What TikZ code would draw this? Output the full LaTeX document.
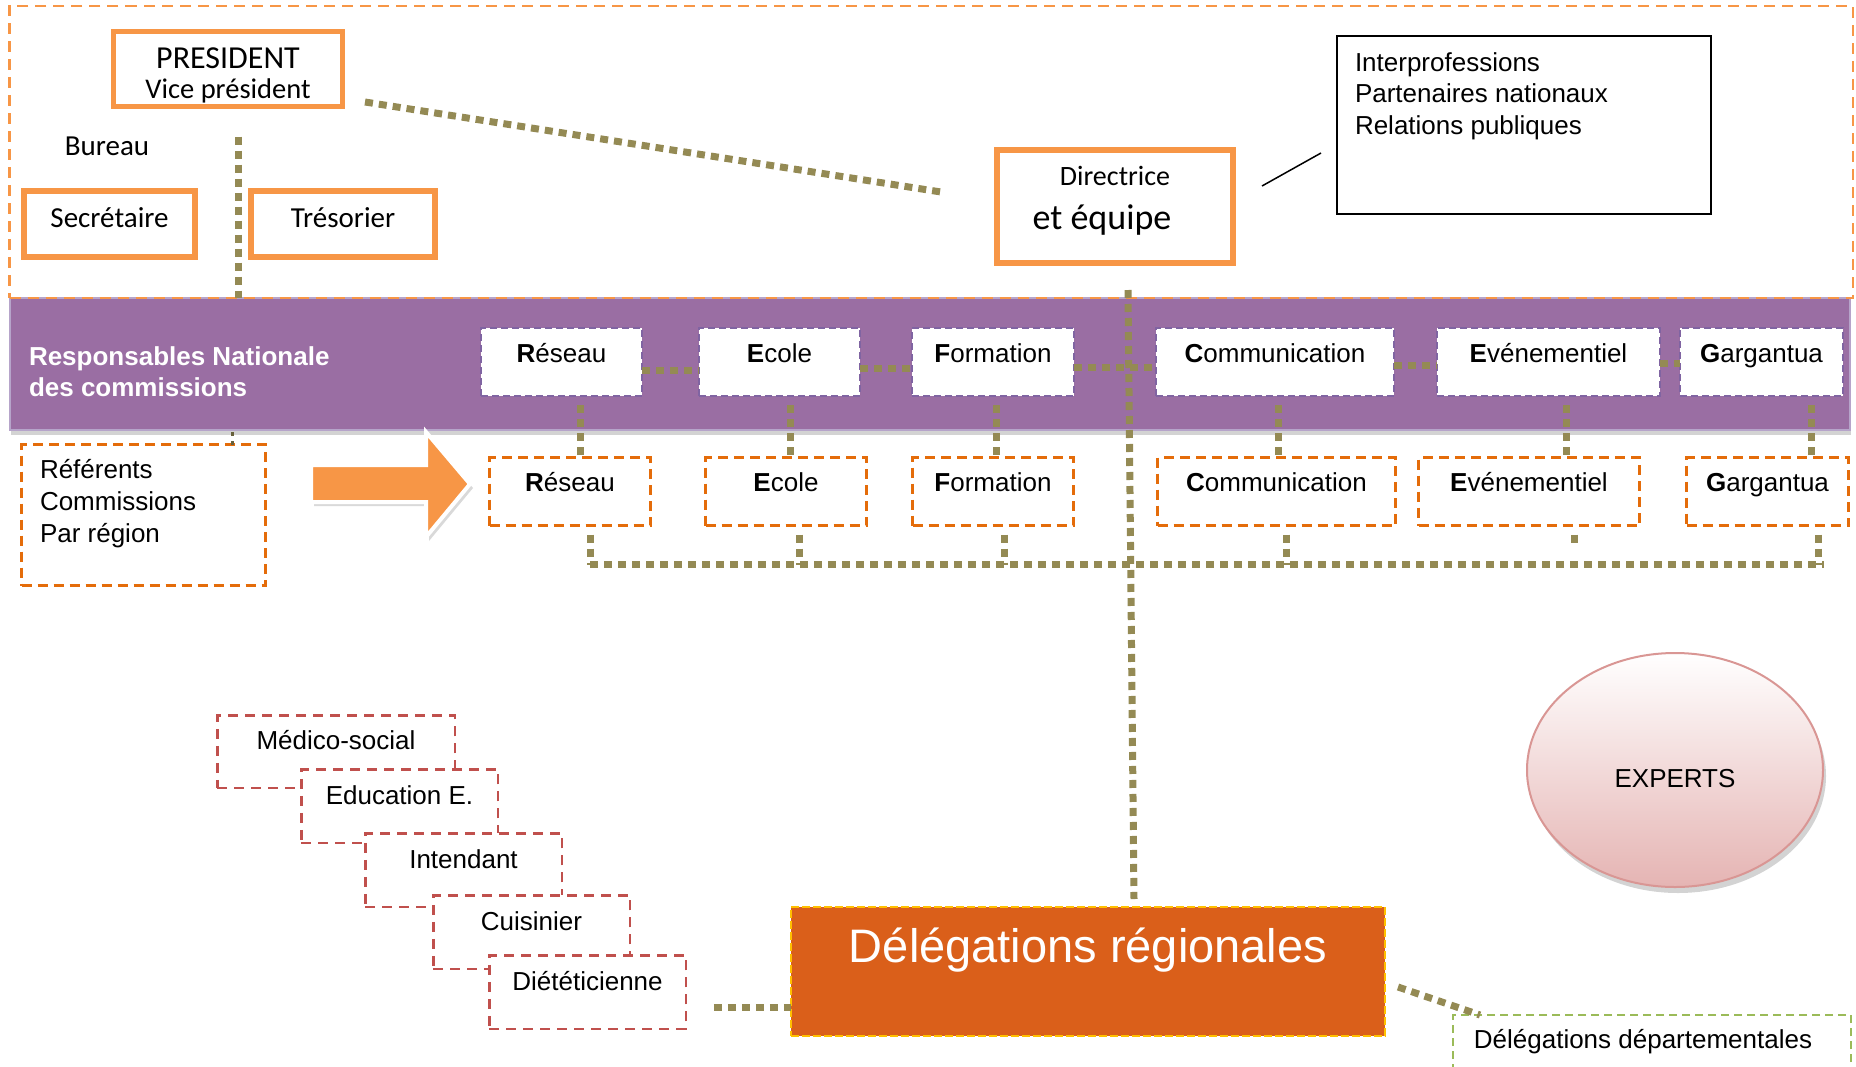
\documentclass[tikz,border=0pt]{standalone}
\usepackage{fontspec}
\setmainfont{Liberation Sans}
\newfontfamily\calib{Carlito}
\usetikzlibrary{calc,shapes.geometric,shadows}
\definecolor{orgL}{RGB}{247,150,70}
\definecolor{orgD}{RGB}{228,108,10}
\definecolor{purp}{RGB}{154,110,163}
\definecolor{purpL}{RGB}{182,164,202}
\definecolor{purpD}{RGB}{128,100,162}
\definecolor{oliv}{RGB}{148,138,84}
\definecolor{redD}{RGB}{192,80,77}
\definecolor{dregC}{RGB}{218,95,26}
\definecolor{yelC}{RGB}{255,192,0}
\definecolor{grnC}{RGB}{155,187,89}
\definecolor{pinkB}{RGB}{217,150,148}
\definecolor{pinkF}{RGB}{229,180,179}
\begin{document}
\begin{tikzpicture}[x=1pt,y=-1pt,
  every node/.style={inner sep=0pt, outer sep=0pt},
  ob/.style={draw=orgL, line width=5.5pt, fill=white, font=\calib\fontsize{29}{34}\selectfont},
  txt26/.style={font=\fontsize{26}{31}\selectfont},
  bb/.style={txt26, draw=purpD, dash pattern=on 7pt off 4pt, line width=2pt, fill=white,
    minimum height=68pt, text height=20pt, text depth=20pt},
  lb/.style={txt26, draw=orgD, dash pattern=on 10pt off 6pt, line width=3pt, fill=white,
    minimum height=68pt, text height=20pt, text depth=20pt},
  rb/.style={txt26, draw=redD, dash pattern=on 10pt off 7pt, line width=2.5pt, fill=white,
    minimum height=73.5pt, minimum width=196.5pt, text height=20pt, text depth=24pt},
  dots/.style={draw=oliv, line width=7pt, dash pattern=on 8pt off 6pt},
]
\useasboundingbox (0,0) rectangle (1856,1066);

% purple band
\node[fill=purp, draw=purpL, line width=2pt, minimum width=1840pt, minimum height=132pt,
  anchor=north west, drop shadow={shadow xshift=1pt, shadow yshift=-5pt, opacity=0.35}] (band) at (10,298) {};
% outer dashed frame
\node[draw=orgL, line width=2.5pt, dash pattern=on 11pt off 7pt, minimum width=1843.5pt,
  minimum height=292pt, anchor=north west] (frame) at (9.5,6) {};

\node[anchor=west, align=left, text=white, font=\bfseries\fontsize{26}{31}\selectfont] (bandtxt)
  at (29,372) {Responsables Nationale\\des commissions};

% bureau
\node[ob, font=\calib\fontsize{28.5}{30}\selectfont] (pres) at (228,69)
  {\parbox[c][75pt][t]{229pt}{\centering\rule{0pt}{36.5pt}{\fontsize{32}{30}\selectfont PRESIDENT}\\Vice président}};
\node[font=\calib\fontsize{29}{34}\selectfont, anchor=base] (bureau) at (107,155) {Bureau};
\node[ob, minimum width=171pt, minimum height=66pt, text height=20pt, text depth=14pt] (sec) at (109.5,224) {Secrétaire};
\node[ob, minimum width=184pt, minimum height=66pt, text height=20pt, text depth=14pt] (tres) at (343,224) {Trésorier};

% directrice
\node[ob] (dir) at (1115,206.5)
  {\parbox[c][113pt][t]{236pt}{\centering\fontsize{28}{34}\selectfont\rule{0pt}{35pt}Directrice\par
   \fontsize{36}{44}\selectfont et équipe\hspace*{26pt}\par}};
\node[txt26, draw=black, line width=2pt, fill=white, inner xsep=18pt] (inter) at (1524,125)
  {\parbox[c][178pt][t]{338pt}{\fontsize{26}{31.5}\selectfont\raggedright\rule{0pt}{35pt}Interprofessions\\Partenaires nationaux\\Relations publiques}};

% band boxes
\node[bb, minimum width=161pt] (br) at (561.5,362) {\textbf{R}éseau};
\node[bb, minimum width=161pt] (be) at (779.5,362) {\textbf{E}cole};
\node[bb, minimum width=162pt] (bf) at (993,362) {\textbf{F}ormation};
\node[bb, minimum width=238pt] (bc) at (1275,362) {\textbf{C}ommunication};
\node[bb, minimum width=223pt] (bv) at (1548.5,362) {\textbf{E}vénementiel};
\node[bb, minimum width=163pt] (bg) at (1761.5,362) {\textbf{G}argantua};

% lower boxes
\node[lb, minimum width=161pt] (lr) at (570,491.5) {\textbf{R}éseau};
\node[lb, minimum width=161pt] (le) at (786,491.5) {\textbf{E}cole};
\node[lb, minimum width=161pt] (lf) at (993,491.5) {\textbf{F}ormation};
\node[lb, minimum width=238pt] (lc) at (1276.5,491.5) {\textbf{C}ommunication};
\node[lb, minimum width=221pt] (lv) at (1529,491.5) {\textbf{E}vénementiel};
\node[lb, minimum width=162pt] (lg) at (1767.5,491.5) {\textbf{G}argantua};

% referents
\node[txt26, draw=orgD, line width=3pt, dash pattern=on 10pt off 6pt, fill=white, inner xsep=18.5pt] (ref) at (143.5,515)
  {\parbox[c][141pt][t]{207pt}{\fontsize{26}{32}\selectfont\raggedright\rule{0pt}{33.5pt}Référents\\Commissions\\Par région}};

% block arrow
\path[draw=white, line width=4pt, fill=orgL, line join=miter,
  drop shadow={shadow xshift=3pt, shadow yshift=-4pt, opacity=0.3}]
  (311,465) -- (426,465) -- (426,432) -- (470,484) -- (426,537) -- (426,502) -- (311,502) -- cycle;

% staff boxes
\node[rb, minimum width=237.5pt, minimum height=72.5pt] (med) at (336,751.5) {Médico-social};
\node[rb] (edu) at (399.5,806) {Education E.};
\node[rb] (int) at (463.5,870) {Intendant};
\node[rb] (cui) at (531.5,932) {Cuisinier};
\node[rb] (diet) at (587.5,992) {Diététicienne};

% delegations
\node[fill=dregC, draw=yelC, line width=2pt, dash pattern=on 8pt off 3pt, minimum width=594pt,
  minimum height=129pt, text=white, font=\fontsize{47}{56}\selectfont, text height=34pt, text depth=53pt]
  (dreg) at (1088,971.5) {Délégations régionales};
\node[txt26, draw=grnC, line width=2pt, dash pattern=on 8pt off 5pt, fill=white, minimum width=398pt,
  minimum height=78pt, text height=19pt, text depth=31pt] (ddep) at (1652,1054) {Délégations départementales\hspace*{18pt}};

% experts
\node[ellipse, draw=pinkB, line width=2pt, top color=white, bottom color=pinkF, minimum width=296pt,
  minimum height=234pt, drop shadow={shadow xshift=3pt, shadow yshift=-6pt, opacity=0.35},
  txt26, text height=34pt, text depth=0pt] (exp) at (1675,770) {EXPERTS};

% ---------- connectors ----------
\draw[dots] ($(pres.south east)+(22.5,-4.5)$) -- ($(dir.west)+(-56,-14.5)$);
\coordinate (pv) at ($(pres.south)+(10,30)$);
\draw[dots] (pv) -- (pv |- band.north);
\draw[line width=1.5pt] ($(dir.east)+(29,-20.5)$) -- ($(inter.west)+(-16,28)$);

\draw[dots] ($(br.east)+(0,8)$) -- ($(be.west)+(0,8)$);
\draw[dots] ($(be.east)+(0,6)$) -- ($(bf.west)+(0,6)$);
\draw[dots] ($(bf.east)+(0,5)$) -- ($(bc.west)+(0,5)$);
\draw[dots] ($(bc.east)+(0,3)$) -- ($(bv.west)+(0,3)$);
\draw[dots] ($(bv.east)+(0,1)$) -- ($(bg.west)+(0,1)$);

\draw[dots] ($(dir.south)+(13,27)$) -- ($(dreg.north)+(46,-8)$);

\coordinate (v1) at ($(br.south)+(18.5,9)$); \draw[dots] (v1) -- (v1 |- lr.north);
\coordinate (v2) at ($(be.south)+(10.5,9)$); \draw[dots] (v2) -- (v2 |- le.north);
\coordinate (v3) at ($(bf.south)+(3,9)$);    \draw[dots] (v3) -- (v3 |- lf.north);
\coordinate (v4) at ($(bc.south)+(3,9)$);    \draw[dots] (v4) -- (v4 |- lc.north);
\coordinate (v5) at ($(bv.south)+(17.5,9)$); \draw[dots] (v5) -- (v5 |- lv.north);
\coordinate (v6) at ($(bg.south)+(49.5,9)$); \draw[dots] (v6) -- (v6 |- lg.north);

\coordinate (busL) at ($(lr.south)+(20,39)$);
\coordinate (busR) at ($(busL -| lg.south)+(56,0)$);
\draw[dots] (busL) -- (busR);
\coordinate (d1) at ($(lr.south)+(20,9)$);   \draw[dots] (d1) -- (d1 |- busL);
\coordinate (d2) at ($(le.south)+(13,9)$);   \draw[dots] (d2) -- (d2 |- busL);
\coordinate (d3) at ($(lf.south)+(11,9)$);   \draw[dots] (d3) -- (d3 |- busL);
\coordinate (d4) at ($(lc.south)+(9.5,9)$);  \draw[dots] (d4) -- (d4 |- busL);
\coordinate (d5) at ($(lv.south)+(45,9)$);   \draw[dots] (d5) -- ($(d5)+(0,9)$);
\coordinate (d6) at ($(lg.south)+(50.5,9)$); \draw[dots] (d6) -- (d6 |- busL);

\coordinate (rs) at ($(band.south west)+(222,2)$);
\draw[oliv!70!black, line width=3pt, dash pattern=on 4pt off 5pt] (rs) -- (rs |- ref.north);

\coordinate (dd) at ($(diet.east)+(28,15)$);
\draw[dots] (dd) -- (dd -| dreg.west);
\draw[dots] ($(dreg.east)+(13,15.5)$) -- ($(ddep.north west)+(27,0)$);
\end{tikzpicture}
\end{document}
